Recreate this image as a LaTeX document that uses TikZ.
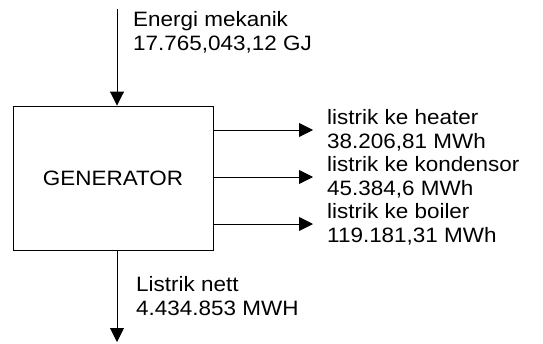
\documentclass[tikz,border=0pt]{standalone}
\usepackage{fontspec}
\setmainfont{Liberation Sans}[FakeStretch=1.08]
\usetikzlibrary{arrows.meta}
\begin{document}
\begin{tikzpicture}[x=1pt,y=1pt,
  flow/.style={line width=0.9pt,-{Triangle[length=14pt,width=14pt]}},
  lbl/.style={anchor=base west,inner sep=0pt,align=left,
    font=\fontsize{20.8}{23.5}\selectfont},
  genbox/.style={draw,line width=0.9pt,minimum width=200pt,minimum height=144pt,
    inner sep=0pt,font=\fontsize{20.8}{23.5}\selectfont}]
\useasboundingbox (0,0) rectangle (543,-343);
\node[genbox] (gen) at (113,-178) {GENERATOR};
\coordinate (in) at (117,-9);
\coordinate (out) at (117,-342);
\coordinate (h) at (313,-130);
\coordinate (k) at (313,-177);
\coordinate (b) at (313,-224);
\draw[flow] (in) -- (in |- gen.north);
\draw[flow] (out |- gen.south) -- (out);
\draw[flow] (gen.east |- h) -- (h);
\draw[flow] (gen.east |- k) -- (k);
\draw[flow] (gen.east |- b) -- (b);
\node[lbl] (tin) at (133,-50) {Energi mekanik\\17.765,043,12 GJ};
\node[lbl] (th) at (327,-148) {listrik ke heater\\38.206,81 MWh};
\node[lbl] (tk) at (327,-195) {listrik ke kondensor\\45.384,6 MWh};
\node[lbl] (tb) at (327,-242) {listrik ke boiler\\119.181,31 MWh};
\node[lbl] (tout) at (136,-315) {Listrik nett\\4.434.853 MWH};
\end{tikzpicture}
\end{document}
